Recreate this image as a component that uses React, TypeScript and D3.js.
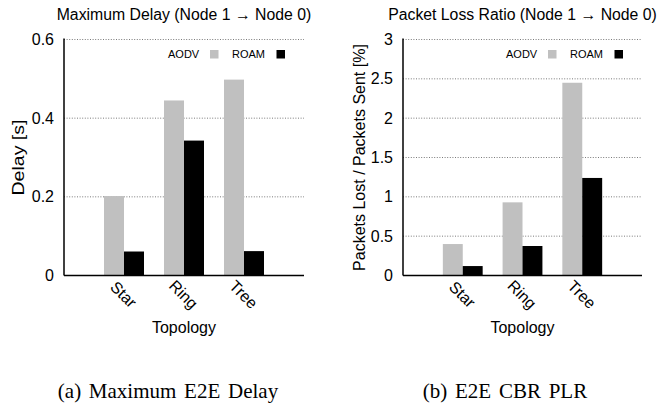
import React from 'react';
import * as d3 from 'd3';

// topology categories and protocol series
const topologies = ['Star', 'Ring', 'Tree'];
const protocols = ['AODV', 'ROAM'];
const protocolColors = ['#c0c0c0', '#000000'];

// maximum end-to-end delay [s]
const delayAodv = [0.202, 0.445, 0.498];
const delayRoam = [0.061, 0.343, 0.062];
const delayTicks = [0, 0.2, 0.4, 0.6];
const delayTickLabels = ['0', '0.2', '0.4', '0.6'];

// packet loss ratio [%]
const plrAodv = [0.4, 0.93, 2.45];
const plrRoam = [0.12, 0.375, 1.24];
const plrTicks = [0, 0.5, 1, 1.5, 2, 2.5, 3];
const plrTickLabels = ['0', '0.5', '1', '1.5', '2', '2.5', '3'];

const W = 659;
const H = 405;
const sans = '"Liberation Sans", Arial, Helvetica, sans-serif';
const serif = '"Liberation Serif", "Times New Roman", Times, serif';

type PanelProps = {
  left: number;
  right: number;
  title: string;
  yLabel: string;
  yLabelX: number;
  yLabelLength?: number;
  series: number[][];
  ticks: number[];
  tickLabels: string[];
  caption: string;
  captionX: number;
};

function Panel(props: PanelProps) {
  const { left, right, title, yLabel, yLabelX, yLabelLength, series, ticks, tickLabels, caption, captionX } = props;
  const top = 39.5;
  const bottom = 275.5;

  const x = d3.scaleLinear().domain([0, topologies.length + 1]).range([left, right]);
  const step = x(1) - x(0);
  const inner = d3.scaleBand().domain(protocols).range([-step / 3, step / 3]).padding(0);
  const y = d3.scaleLinear().domain([0, ticks[ticks.length - 1]]).range([bottom, top]);
  const cx = (left + right) / 2;

  return (
    <g>
      <text x={cx} y={19.5} textAnchor="middle" fontFamily={sans} fontSize={15.8} fill="#000">
        {title}
      </text>

      {ticks.slice(1).map((t) => (
        <line key={'g' + t} x1={left} x2={right} y1={y(t)} y2={y(t)}
          stroke="#7a7a7a" strokeWidth={1} strokeDasharray="1,1.6" />
      ))}

      {ticks.map((t, i) => (
        <text key={'t' + t} x={left - 10} y={y(t)} textAnchor="end" dominantBaseline="central"
          fontFamily={sans} fontSize={16} fill="#000">
          {tickLabels[i]}
        </text>
      ))}

      {topologies.map((name, i) =>
        protocols.map((p, j) => (
          <rect key={name + p}
            x={x(i + 1) + (inner(p) as number)}
            width={inner.bandwidth()}
            y={y(series[j][i])}
            height={bottom - y(series[j][i])}
            fill={protocolColors[j]} />
        ))
      )}

      <line x1={left} x2={left} y1={top - 1} y2={bottom} stroke="#000" strokeWidth={1.5} />
      <line x1={left} x2={right} y1={bottom} y2={bottom} stroke="#000" strokeWidth={1.5} />

      {topologies.map((name, i) => (
        <text key={'c' + name}
          transform={`translate(${x(i + 1) - 0.5},${294.5}) rotate(45)`}
          textAnchor="middle" dominantBaseline="central"
          fontFamily={sans} fontSize={16} fill="#000">
          {name}
        </text>
      ))}

      <text x={cx} y={333} textAnchor="middle" fontFamily={sans} fontSize={16} fill="#000">
        Topology
      </text>

      <text transform={`translate(${yLabelX},${(top + bottom) / 2}) rotate(-90)`}
        textAnchor="middle" dominantBaseline="central"
        fontFamily={sans} fontSize={16} fill="#000"
        textLength={yLabelLength} lengthAdjust={yLabelLength ? 'spacingAndGlyphs' : undefined}>
        {yLabel}
      </text>

      {/* legend */}
      <text x={right - 136} y={58} fontFamily={sans} fontSize={11} fill="#000">{protocols[0]}</text>
      <rect x={right - 94} y={50} width={8.5} height={8.5} fill={protocolColors[0]} />
      <text x={right - 72} y={58} fontFamily={sans} fontSize={11} fill="#000">{protocols[1]}</text>
      <rect x={right - 27.5} y={50} width={8.5} height={8.5} fill={protocolColors[1]} />

      <text x={captionX} y={398} textAnchor="middle" fontFamily={serif} fontSize={21}
        wordSpacing={2.5} fill="#000">
        {caption}
      </text>
    </g>
  );
}

export default function App() {
  return (
    <svg width={W} height={H} viewBox={`0 0 ${W} ${H}`}
      style={{ position: 'absolute', left: 0, top: 0, background: '#fff' }}>
      <rect width={W} height={H} fill="#fff" />
      <Panel left={64} right={304}
        title="Maximum Delay (Node 1 → Node 0)"
        yLabel="Delay [s]" yLabelX={18} yLabelLength={76}
        series={[delayAodv, delayRoam]}
        ticks={delayTicks} tickLabels={delayTickLabels}
        caption="(a) Maximum E2E Delay" captionX={168} />
      <Panel left={403} right={642}
        title="Packet Loss Ratio (Node 1 → Node 0)"
        yLabel="Packets Lost / Packets Sent [%]" yLabelX={359}
        series={[plrAodv, plrRoam]}
        ticks={plrTicks} tickLabels={plrTickLabels}
        caption="(b) E2E CBR PLR" captionX={505} />
    </svg>
  );
}
